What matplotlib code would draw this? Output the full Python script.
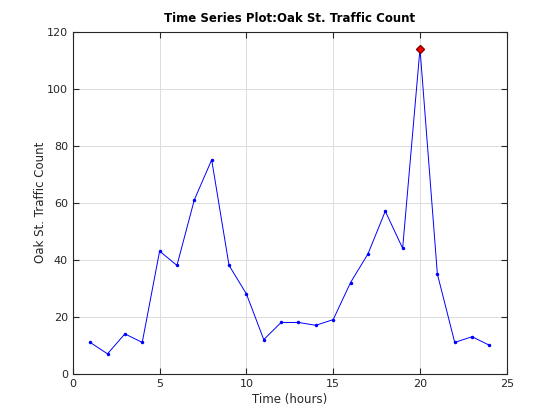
import matplotlib
matplotlib.use("Agg")
import matplotlib.pyplot as plt
import numpy as np

horas = np.arange(1, 25)
contagem = [11, 7, 14, 11, 43, 38, 61, 75, 38, 28, 12, 18,
            18, 17, 19, 32, 42, 57, 44, 114, 35, 11, 13, 10]
x_ticks = [0, 5, 10, 15, 20, 25]
y_ticks = [0, 20, 40, 60, 80, 100, 120]

plt.rcParams['font.family'] = ['DejaVu Sans']

fig = plt.figure(figsize=(5.6, 4.2), dpi=100)
ax = fig.add_axes([0.13, 0.11, 0.775, 0.815])

ax.plot(horas, contagem, color='blue', linewidth=0.7, marker='.', markersize=3)

# destaque do pico
i_max = int(np.argmax(contagem))
ax.plot(horas[i_max], contagem[i_max], marker='D', markersize=4.5,
        markerfacecolor='red', markeredgecolor='#800000', linestyle='none')

ax.set_xlim(0, 25)
ax.set_ylim(0, 120)
ax.set_xticks(x_ticks)
ax.set_yticks(y_ticks)
ax.grid(True, color='#dcdcdc', linewidth=0.7)
ax.set_axisbelow(True)
ax.tick_params(direction='in', length=4, width=0.8, labelsize=8, colors='#262626',
               top=True, right=True)
for s in ax.spines.values():
    s.set_color('#262626')
    s.set_linewidth(0.8)

ax.set_title('Time Series Plot:Oak St. Traffic Count', fontsize=8.5, fontweight='bold', pad=7)
ax.set_xlabel('Time (hours)', fontsize=8.5, color='#262626', labelpad=3)
ax.set_ylabel('Oak St. Traffic Count', fontsize=8.5, color='#262626', labelpad=0)

fig.savefig('out.png', dpi=100)
